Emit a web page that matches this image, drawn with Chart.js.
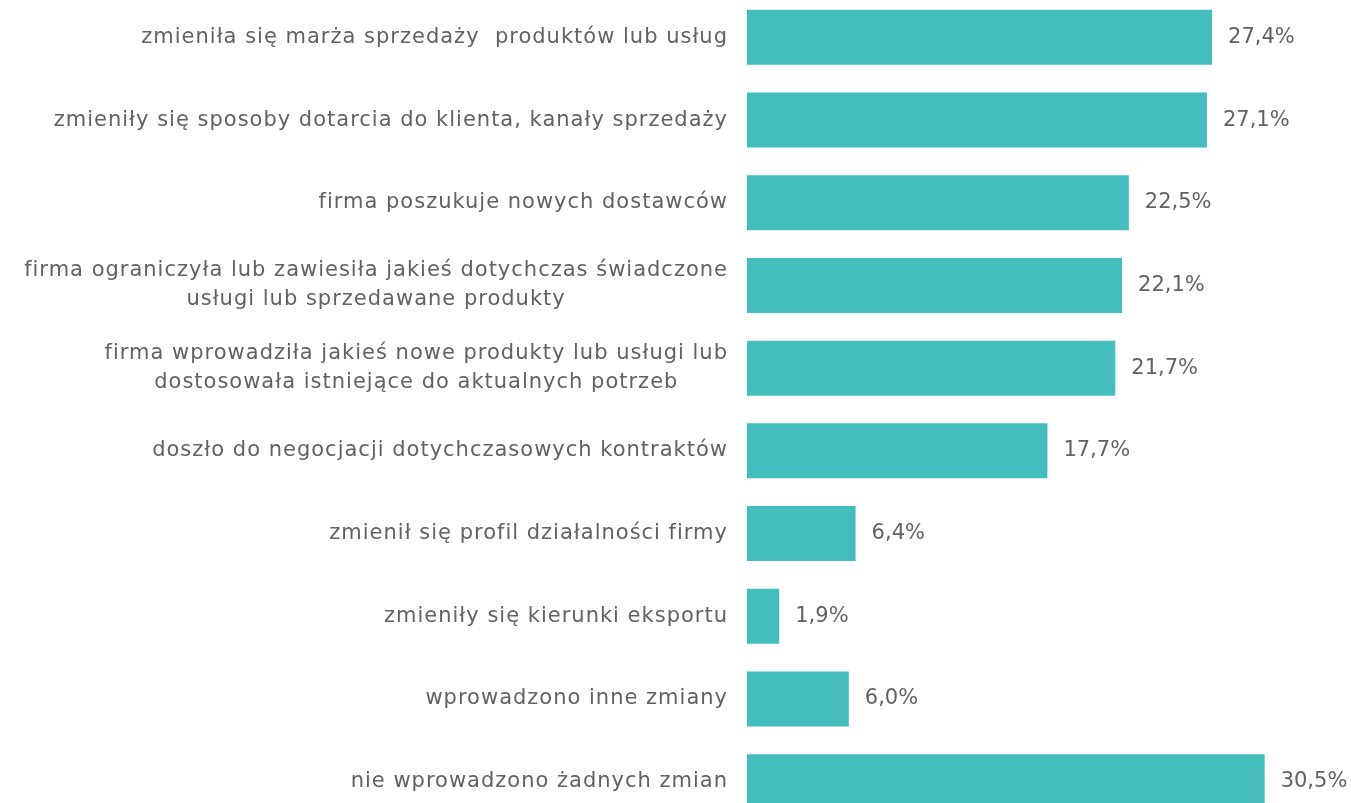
<!DOCTYPE html>
<html>
<head>
<meta charset="utf-8">
<script src="https://cdn.jsdelivr.net/npm/chart.js@4.4.1/dist/chart.umd.min.js"></script>
<style>
	html, body { margin: 0; padding: 0; background: #fff; overflow: hidden; }
	#wrap { position: absolute; left: 0; top: -4px; width: 1351px; height: 827px; }
</style>
</head>
<body>
<div id="wrap"><canvas id="chart"></canvas></div>
<script>
const categories = [
	['zmieniła się marża sprzedaży  produktów lub usług'],
	['zmieniły się sposoby dotarcia do klienta, kanały sprzedaży'],
	['firma poszukuje nowych dostawców'],
	['firma ograniczyła lub zawiesiła jakieś dotychczas świadczone', 'usługi lub sprzedawane produkty'],
	['firma wprowadziła jakieś nowe produkty lub usługi lub', 'dostosowała istniejące do aktualnych potrzeb'],
	['doszło do negocjacji dotychczasowych kontraktów'],
	['zmienił się profil działalności firmy'],
	['zmieniły się kierunki eksportu'],
	['wprowadzono inne zmiany'],
	['nie wprowadzono żadnych zmian'],
]
const values = [27.4, 27.1, 22.5, 22.1, 21.7, 17.7, 6.4, 1.9, 6.0, 30.5]

const FONT = '21px "DejaVu Sans", sans-serif'
const TEXT = '#626262'
const BAR = '#43BEBD'

const fmt = v => v.toFixed(1).replace('.', ',') + '%'

// labels on the left, each block centred on itself and right-aligned to the axis
const categoryLabels = {
	id: 'categoryLabels',
	afterDraw(chart) {
		const ctx = chart.ctx
		const y = chart.scales.y
		ctx.save()
		ctx.font = FONT
		ctx.letterSpacing = '1px'
		ctx.fillStyle = TEXT
		ctx.textBaseline = 'middle'
		ctx.textAlign = 'left'
		const lineH = 29
		const right = chart.chartArea.left - 20
		categories.forEach((lines, i) => {
			const cy = y.getPixelForTick(i)
			const widths = lines.map(l => ctx.measureText(l).width - 1)
			const w = Math.max(...widths)
			const cx = right - w / 2
			lines.forEach((l, j) => {
				ctx.fillText(l, cx - widths[j] / 2, cy + (j - (lines.length - 1) / 2) * lineH)
			})
		})
		ctx.restore()
	},
}

const valueLabels = {
	id: 'valueLabels',
	afterDatasetsDraw(chart) {
		const ctx = chart.ctx
		const meta = chart.getDatasetMeta(0)
		ctx.save()
		ctx.font = FONT
		ctx.fillStyle = TEXT
		ctx.textBaseline = 'middle'
		ctx.textAlign = 'left'
		meta.data.forEach((bar, i) => {
			ctx.fillText(fmt(values[i]), bar.x + 16, bar.y)
		})
		ctx.restore()
	},
}

const ctx = document.getElementById('chart').getContext('2d')
const myChart = new Chart(ctx, {
	type: 'bar',
	data: {
		labels: categories.map(c => c.join(' ')),
		datasets: [
			{
				data: values,
				backgroundColor: BAR,
				barPercentage: 0.665,
				categoryPercentage: 1,
			},
		],
	},
	options: {
		indexAxis: 'y',
		responsive: true,
		maintainAspectRatio: false,
		animation: false,
		layout: { padding: { top: 0, right: 10, bottom: 0, left: 0 } },
		plugins: {
			legend: { display: false },
			tooltip: { enabled: false },
		},
		scales: {
			x: {
				min: 0,
				max: 35,
				display: false,
			},
			y: {
				grid: { display: false, drawTicks: false },
				border: { display: false },
				ticks: { display: false },
				afterFit: scale => {
					scale.width = 747
				},
			},
		},
	},
	plugins: [categoryLabels, valueLabels],
})
</script>
</body>
</html>
